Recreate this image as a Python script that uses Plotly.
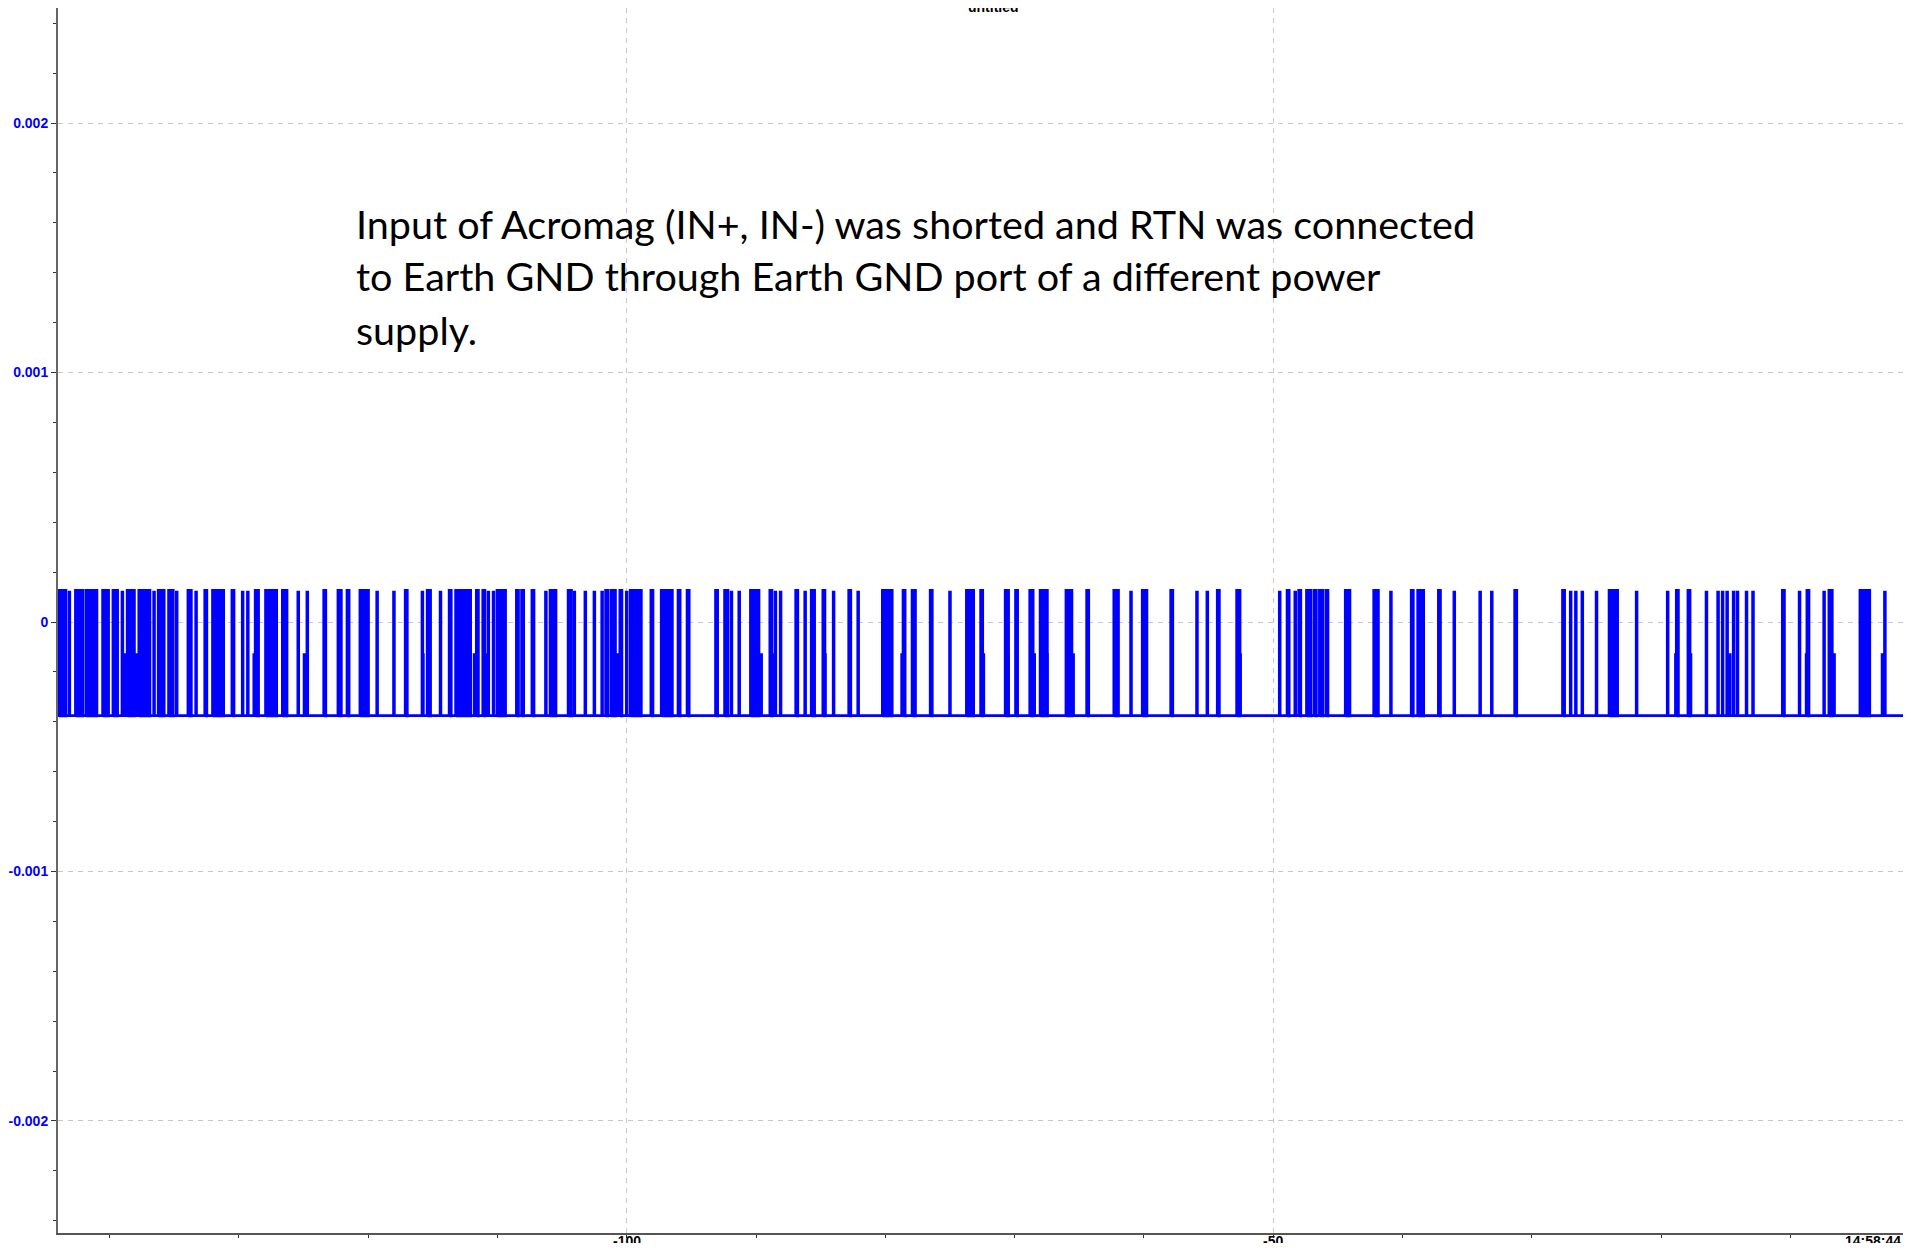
import plotly.graph_objects as go

# ---------------- data ----------------
# signal levels (V): high, intermediate and low ADC codes
level_high = 0.000125
level_mid = -0.000125
level_low = -0.000375

# time span of the record (s, relative to 14:58:44)
record_start = -144.0
record_end = -0.7

# bursts where the signal toggles up to the high level (start, end in s)
burst_start = [
    -144.0, -143.2, -142.7, -141.9, -140.6, -139.8, -139.1, -138.7, -137.8, -136.6,
    -136.3, -135.5, -134.9, -134.0, -133.4, -132.7, -132.1, -130.6, -129.8, -129.4,
    -128.8, -128.0, -126.7, -125.5, -124.8, -123.5, -122.4, -121.7, -120.7, -119.4,
    -118.1, -117.2, -115.9, -115.5, -114.5, -113.8, -113.3, -111.7, -111.2, -110.8,
    -110.4, -110.1, -108.6, -108.2,
    -107.4, -106.3, -106.0, -104.6, -104.1, -103.3, -102.6, -102.0, -101.7, -101.3,
    -100.6, -100.1, -99.8, -98.2, -97.4, -96.1, -95.4, -93.2, -92.5, -92.0,
    -91.4, -90.5, -89.0, -88.6, -88.2, -87.0, -86.3, -85.8, -84.9, -84.1,
    -82.9, -82.2, -80.3, -78.7, -78.0, -76.6, -75.1, -73.8, -72.7,
    -70.8, -70.0, -68.9, -68.1, -66.1, -64.5, -62.4, -61.1, -60.2, -58.0,
    -56.0, -55.2, -54.4, -52.9, -49.6, -49.0, -48.4, -48.1, -47.5, -46.9,
    -46.5, -46.0, -44.5, -42.3, -41.0, -39.4, -38.9, -37.3,
    -36.1, -34.1, -33.2, -31.4, -27.7, -27.1, -26.7, -26.2, -25.1, -24.1,
    -22.0, -19.6, -18.9, -18.0, -16.6, -15.7, -15.3, -15.0, -14.5, -14.2,
    -13.5, -13.0, -10.7, -9.4, -8.8, -7.5, -7.1, -4.7, -2.8,
]
burst_end = [
    -143.3, -143.0, -142.0, -140.9, -140.0, -139.3, -138.9, -138.0, -136.8, -136.5,
    -135.7, -135.0, -134.7, -133.6, -133.2, -132.4, -131.1, -130.3, -129.6, -129.2,
    -128.4, -127.0, -126.2, -125.3, -124.6, -123.2, -122.0, -121.4, -119.9, -119.2,
    -117.9, -116.9, -115.7, -115.1, -114.3, -113.5, -112.0, -111.4, -110.9, -110.6,
    -110.2, -109.3, -108.3, -107.9,
    -107.1, -106.2, -105.4, -104.2, -104.0, -103.1, -102.4, -101.8, -101.4, -100.8,
    -100.3, -99.9, -98.8, -97.9, -96.4, -95.8, -95.1, -92.9, -92.1, -91.8,
    -91.2, -89.7, -88.7, -88.4, -88.0, -86.7, -86.1, -85.4, -84.6, -83.9,
    -82.6, -82.0, -79.4, -78.4, -77.6, -76.3, -74.9, -73.1, -72.4,
    -70.4, -69.7, -68.5, -67.4, -65.5, -64.2, -61.9, -60.9, -59.7, -57.7,
    -55.8, -55.0, -54.1, -52.5, -49.4, -48.7, -48.2, -47.8, -47.0, -46.6,
    -46.1, -45.7, -44.0, -41.8, -40.8, -39.1, -38.3, -37.0,
    -35.9, -33.9, -33.0, -31.1, -27.4, -26.9, -26.5, -26.0, -24.9, -23.3,
    -21.8, -19.4, -18.6, -17.7, -16.4, -15.5, -15.2, -14.8, -14.3, -14.0,
    -13.3, -12.8, -10.4, -9.2, -8.5, -7.3, -6.7, -3.8, -2.6,
]

# short stays at the intermediate level (start, end in s)
mid_start = [
    -138.93, -138.02, -128.87, -125.01, -115.86, -112.90, -111.86, -110.96, -109.80,
    -105.75, -100.83, -89.69, -88.71, -84.74, -79.77, -78.80, -72.48,
    -70.61, -68.55, -67.57, -65.54, -52.62,
    -18.92, -17.78, -14.74, -8.81, -6.70, -2.94,
]
mid_end = [
    -138.75, -137.82, -128.74, -124.83, -115.65, -112.76, -111.68, -110.81, -109.67,
    -105.60, -100.62, -89.51, -88.61, -84.59, -79.64, -78.61, -72.35,
    -70.43, -68.42, -67.44, -65.41, -52.50,
    -18.81, -17.68, -14.64, -8.71, -6.56, -2.83,
]

y_ticks = [-0.002, -0.001, 0, 0.001, 0.002]
y_tick_text = ["-0.002", "-0.001", "0", "0.001", "0.002"]
x_ticks = [-100, -50]
x_tick_text = ["-100", "-50"]
end_time_label = "14:58:44"
title_text = "untitled"
note_lines = [
    "Input of Acromag (IN+, IN-) was shorted and RTN was connected",
    "to Earth GND through Earth GND port of a different power",
    "supply.",
]

# ---------------- figure ----------------
BLUE = "#0000ff"
LW = 3.5
inset = 0.1  # about half of the stroke width, in seconds


def rect_path(starts, ends, top):
    xs, ys = [], []
    for a, b in zip(starts, ends):
        a2, b2 = a + inset, b - inset
        if b2 < a2:
            a2 = b2 = (a + b) / 2
        xs += [a2, a2, b2, b2, a2, None]
        ys += [level_low, top, top, level_low, level_low, None]
    return xs, ys


fig = go.Figure()

fig.add_trace(go.Scatter(
    x=[record_start, record_end], y=[level_low, level_low], mode="lines",
    line=dict(color=BLUE, width=2.8), hoverinfo="skip", showlegend=False))

mx, my = rect_path(mid_start, mid_end, level_mid)
fig.add_trace(go.Scatter(
    x=mx, y=my, mode="lines", fill="toself", fillcolor=BLUE,
    line=dict(color=BLUE, width=LW), hoverinfo="skip", showlegend=False))

bx, by = rect_path(burst_start, burst_end, level_high)
fig.add_trace(go.Scatter(
    x=bx, y=by, mode="lines", fill="toself", fillcolor=BLUE,
    line=dict(color=BLUE, width=LW), hoverinfo="skip", showlegend=False))

# page body has an 8px margin: size the figure so it fits the window exactly
W, H = 1895, 1235
ML, MR, MT, MB = 50, 0, 0, 10
plot_w = W - ML - MR
plot_h = H - MT - MB

label_font = dict(family="Liberation Sans, Arial, sans-serif", size=14, weight="bold")

fig.update_layout(
    width=W, height=H,
    margin=dict(l=ML, r=MR, t=MT, b=MB, pad=0, autoexpand=False),
    paper_bgcolor="white", plot_bgcolor="white",
    showlegend=False,
    xaxis=dict(
        automargin=False,
        range=[-143.98, -1.30],
        tickmode="array", tickvals=x_ticks, showticklabels=False,
        ticks="outside", ticklen=3, tickwidth=1, tickcolor="#333333",
        showline=True, linecolor="#555555", linewidth=1.5,
        showgrid=True, gridcolor="#c8c8c8", gridwidth=1, griddash="5px,5px",
        zeroline=False,
        minor=dict(tickmode="linear", tick0=0, dtick=10, ticks="outside",
                   ticklen=3, tickcolor="#333333", showgrid=False),
    ),
    yaxis=dict(
        automargin=False,
        range=[-0.002449, 0.002461],
        tickmode="array", tickvals=y_ticks, ticktext=y_tick_text,
        tickfont=dict(color=BLUE, **label_font),
        ticks="outside", ticklen=5, tickwidth=1, tickcolor="#333333",
        showline=True, linecolor="#666666", linewidth=2,
        showgrid=True, gridcolor="#c8c8c8", gridwidth=1, griddash="5px,5px",
        zeroline=False,
        minor=dict(tickmode="linear", tick0=0, dtick=0.0002, ticks="outside",
                   ticklen=3, tickcolor="#333333", showgrid=False),
    ),
)

# x tick labels (cut by the bottom edge, as in the reference)
for xv, txt in zip(x_ticks, x_tick_text):
    fig.add_annotation(
        x=xv, y=0, xref="x", yref="paper", text=txt, showarrow=False,
        xanchor="center", yanchor="top", yshift=2,
        font=dict(color="black", **label_font))

# end time label at the right end of the time axis
fig.add_annotation(
    x=1, y=0, xref="paper", yref="paper", text=end_time_label, showarrow=False,
    xanchor="right", yanchor="top", yshift=2,
    font=dict(color="black", **label_font))

# title (partially cut off at the top edge)
fig.add_annotation(
    x=(985 - ML) / plot_w, y=1, xref="paper", yref="paper",
    text=title_text, showarrow=False, xanchor="center", yanchor="middle", yshift=1,
    font=dict(color="black", **label_font))

# note text
note_mid_px = [215, 268, 321]
for line, ypx in zip(note_lines, note_mid_px):
    fig.add_annotation(
        x=(346 - ML) / plot_w, y=1 - ypx / plot_h, xref="paper", yref="paper",
        text=line, showarrow=False, xanchor="left", yanchor="middle",
        font=dict(family="Lato, sans-serif", size=39.5, color="black"))

fig.write_html("out.html")
